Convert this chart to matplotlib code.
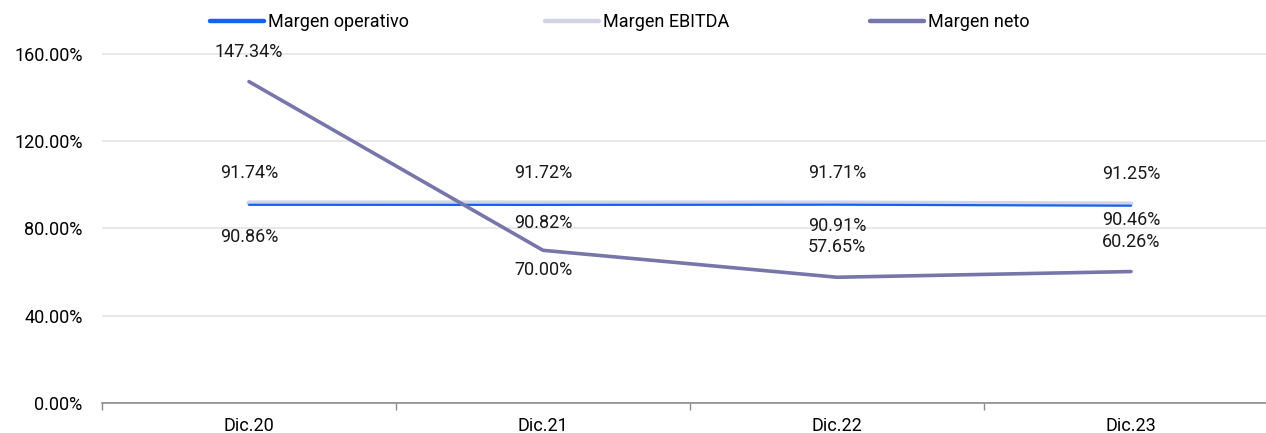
import matplotlib
matplotlib.use("Agg")
import matplotlib.pyplot as plt
from matplotlib.lines import Line2D

plt.rcParams['font.family'] = ['Roboto', 'DejaVu Sans']

# Datos
categorias = ["Dic.20", "Dic.21", "Dic.22", "Dic.23"]
margen_operativo = [90.86, 90.82, 90.91, 90.46]
margen_ebitda = [91.74, 91.72, 91.71, 91.25]
margen_neto = [147.34, 70.00, 57.65, 60.26]

C_OPER = "#1662F0"
C_EBITDA = "#D3D3E6"
C_NETO = "#7676AA"
FS = 13

fig = plt.figure(figsize=(12.66, 4.33), dpi=100)
# el eje se sale un poco por la derecha, como en el original
ax = fig.add_axes([102 / 1266, 30 / 433, 1176 / 1266, 373 / 433])

x = list(range(len(categorias)))

ax.plot(x, margen_ebitda, color=C_EBITDA, lw=3.6, solid_capstyle="round", zorder=3)
ax.plot(x, margen_operativo, color=C_OPER, lw=1.6, solid_capstyle="round", zorder=4)
ax.plot(x, margen_neto, color=C_NETO, lw=2.6, solid_capstyle="round", zorder=5)

# etiquetas de datos (desplazamiento vertical en pixeles)
off_ebitda = [30, 30, 30, 30]
off_oper = [-32, -18, -21, -14]
off_neto = [30, -20, 30, 30]

def etiquetar(vals, offs):
    for xi, v, o in zip(x, vals, offs):
        ax.annotate(f"{v:.2f}%", xy=(xi, v), xytext=(0, o * 0.72),
                    textcoords="offset points", ha="center", va="center",
                    fontsize=FS, color="#1a1a1a", zorder=6)

etiquetar(margen_ebitda, off_ebitda)
etiquetar(margen_operativo, off_oper)
etiquetar(margen_neto, off_neto)

# ejes
ax.set_xlim(-0.5, 3.5)
ax.set_ylim(0, 171)
ax.set_yticks([0, 40, 80, 120, 160])
ax.set_yticklabels([f"{v:.2f}%" for v in [0, 40, 80, 120, 160]])
ax.set_xticks(x)
ax.set_xticklabels(categorias)
ax.set_xticks([-0.5, 0.5, 1.5, 2.5, 3.5], minor=True)
ax.tick_params(axis="x", which="major", length=0, pad=10, labelsize=FS)
ax.tick_params(axis="x", which="minor", length=5, color="#8C8C8C", width=1)
ax.tick_params(axis="y", length=0, pad=14, labelsize=FS)

ax.grid(axis="y", color="#E4E4E4", lw=1.2)
ax.set_axisbelow(True)
for s in ["top", "right", "left"]:
    ax.spines[s].set_visible(False)
ax.spines["bottom"].set_color("#8C8C8C")
ax.spines["bottom"].set_linewidth(1.2)
ax.spines["bottom"].set_zorder(2)

# leyenda: tres entradas colocadas por separado
nombres = ["Margen operativo", "Margen EBITDA", "Margen neto"]
colores = [C_OPER, C_EBITDA, C_NETO]
pos_x = [210 / 1266, 545 / 1266, 870 / 1266]
for n, c, px in zip(nombres, colores, pos_x):
    h = Line2D([], [], color=c, lw=3.2, solid_capstyle="round")
    fig.legend([h], [n], loc="center left", bbox_to_anchor=(px, 1 - 22 / 433),
               frameon=False, fontsize=FS, handlelength=3.0,
               handletextpad=0.2, borderpad=0, borderaxespad=0)

fig.savefig("out.png", dpi=100)
